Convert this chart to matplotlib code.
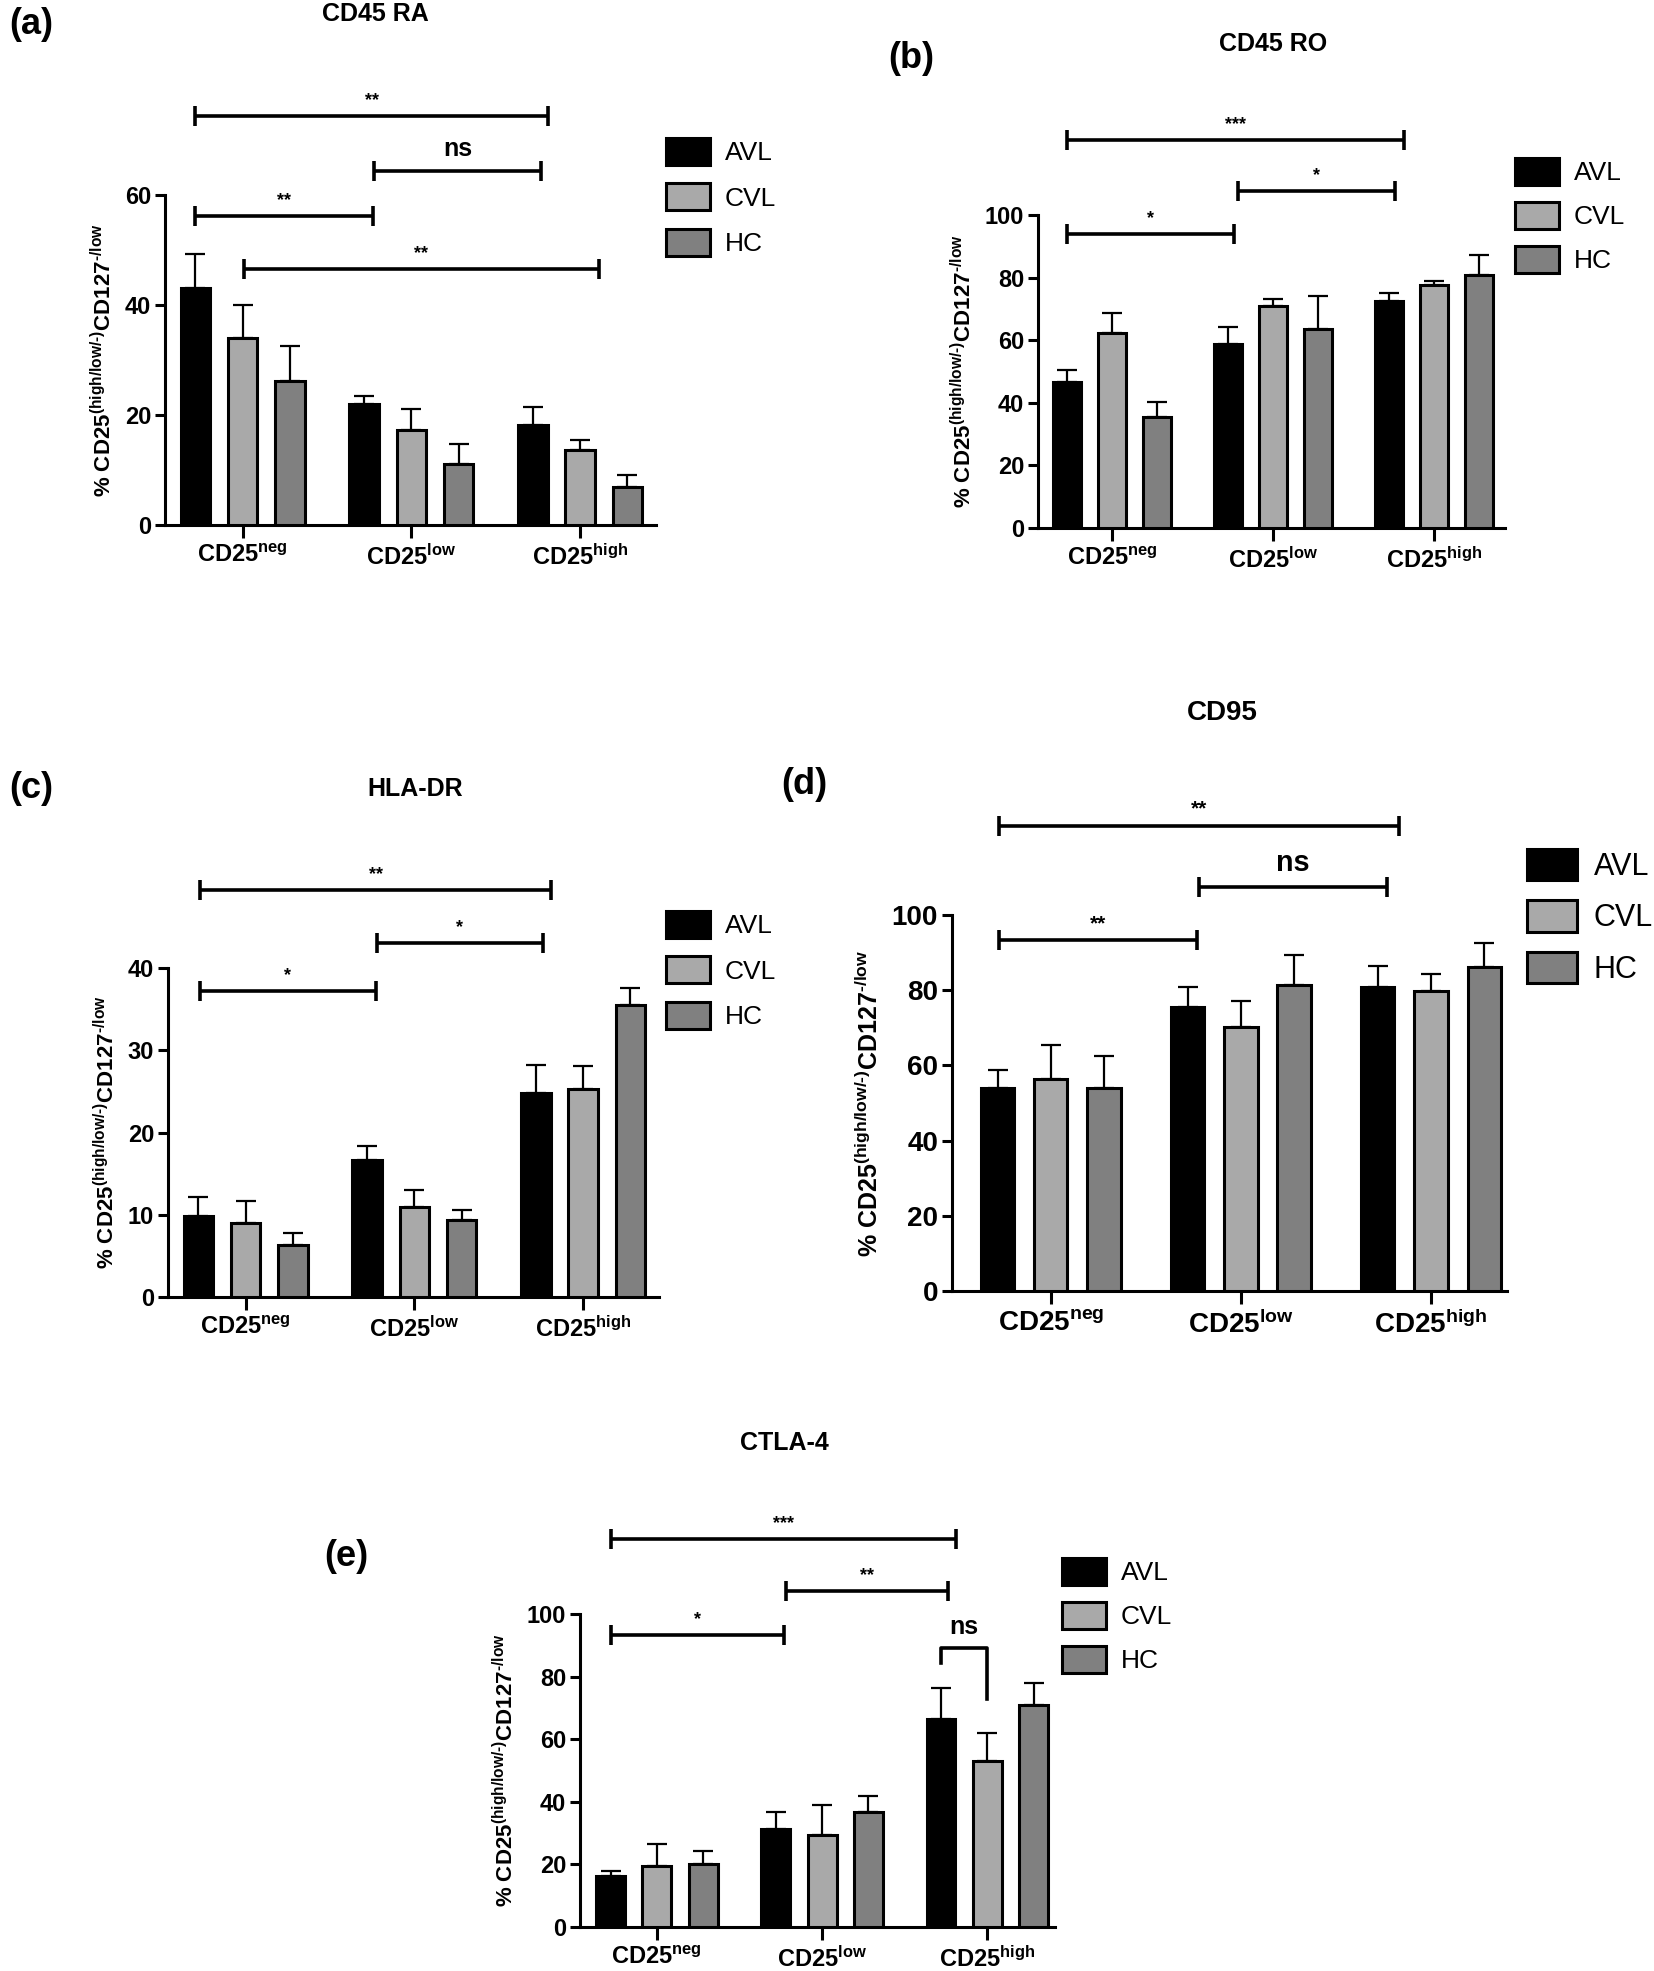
import matplotlib
matplotlib.use("Agg")
import matplotlib.pyplot as plt
import numpy as np

plt.rcParams['font.family'] = ['Liberation Sans', 'DejaVu Sans']
plt.rcParams['font.weight'] = 'bold'
plt.rcParams['mathtext.fontset'] = 'custom'
plt.rcParams['mathtext.rm'] = 'Liberation Sans:bold'
plt.rcParams['mathtext.bf'] = 'Liberation Sans:bold'
plt.rcParams['mathtext.it'] = 'Liberation Sans:bold'
plt.rcParams['mathtext.default'] = 'rm'

# ---------------- data ----------------
groups = ['CD25$^{neg}$', 'CD25$^{low}$', 'CD25$^{high}$']
series = ['AVL', 'CVL', 'HC']
colors = ['#000000', '#a9a9a9', '#808080']

# (a) CD45 RA
a_avl = [43.0, 22.0, 18.2]
a_cvl = [34.0, 17.3, 13.7]
a_hc = [26.2, 11.0, 6.9]
a_avl_err = [6.3, 1.5, 3.2]
a_cvl_err = [6.0, 3.8, 1.7]
a_hc_err = [6.4, 3.8, 2.1]

# (b) CD45 RO
b_avl = [46.7, 58.9, 72.4]
b_cvl = [62.3, 70.9, 77.6]
b_hc = [35.5, 63.6, 80.7]
b_avl_err = [3.7, 5.3, 2.8]
b_cvl_err = [6.4, 2.4, 1.3]
b_hc_err = [4.6, 10.6, 6.5]

# (c) HLA-DR
c_avl = [9.8, 16.7, 24.8]
c_cvl = [9.0, 11.0, 25.3]
c_hc = [6.3, 9.4, 35.5]
c_avl_err = [2.3, 1.6, 3.4]
c_cvl_err = [2.7, 2.0, 2.8]
c_hc_err = [1.5, 1.2, 2.1]

# (d) CD95
d_avl = [53.9, 75.6, 80.8]
d_cvl = [56.4, 70.1, 79.7]
d_hc = [54.0, 81.5, 86.1]
d_avl_err = [5.0, 5.3, 5.6]
d_cvl_err = [9.1, 7.0, 4.6]
d_hc_err = [8.6, 7.8, 6.5]

# (e) CTLA-4
e_avl = [16.4, 31.4, 66.3]
e_cvl = [19.4, 29.3, 52.9]
e_hc = [20.0, 36.9, 70.8]
e_avl_err = [1.6, 5.5, 9.9]
e_cvl_err = [7.1, 9.7, 9.1]
e_hc_err = [4.4, 5.0, 7.1]

# significance bars: (x1, x2, y, label)
a_sig = [(-0.28, 1.81, 74.3, '**'), (0.78, 1.77, 64.4, 'ns'),
         (-0.28, 0.77, 56.1, '**'), (0.01, 2.11, 46.6, '**')]
b_sig = [(-0.28, 1.81, 124.1, '***'), (0.78, 1.76, 107.8, '*'),
         (-0.28, 0.76, 93.9, '*')]
c_sig = [(-0.27, 1.81, 49.5, '**'), (0.78, 1.76, 43.0, '*'),
         (-0.27, 0.77, 37.2, '*')]
d_sig = [(-0.275, 1.83, 123.8, '**'), (0.78, 1.77, 107.5, 'ns'),
         (-0.275, 0.77, 93.3, '**')]
e_sig = [(-0.275, 1.81, 124.1, '***'), (0.78, 1.76, 107.3, '**'),
         (-0.275, 0.77, 93.4, '*')]
e_bracket = (1.72, 2.0, 89.2, 84.3, 72.7, 'ns')

ylabel = r'% CD25$^{(high/low/\text{-})}$CD127$^{\text{-}/low}$'

W, H = 1654, 1971
fig = plt.figure(figsize=(W / 100, H / 100), dpi=100)


def fx(px):
    return px / W


def fy(py):
    return 1 - py / H


offsets = [-0.28, 0.0, 0.28]
bw = 0.175


def panel(rect, vals, errs, ymax, ystep, xlim, sigs, title, title_xy, tag, tag_xy,
          leg_xy, tick_fs=17, leg_fs=19, title_fs=18, ylab_fs=16, sig_scale=1.0,
          leg_len=1.67, leg_ls=0.68):
    ax = fig.add_axes(rect)
    x = np.arange(len(groups))
    handles = []
    for i in range(3):
        h = ax.bar(x + offsets[i], vals[i], width=bw, color=colors[i],
                   edgecolor='black', linewidth=2.2, zorder=3, label=series[i])
        ax.errorbar(x + offsets[i], vals[i], yerr=[np.zeros(3), errs[i]],
                    fmt='none', ecolor='black', elinewidth=1.6, capsize=7,
                    capthick=1.6, zorder=2)
        handles.append(h)
    ax.set_ylim(0, ymax)
    ax.set_xlim(*xlim)
    ax.set_yticks(np.arange(0, ymax + 0.1, ystep))
    ax.set_xticks(x)
    ax.set_xticklabels(groups)
    for s in ['top', 'right']:
        ax.spines[s].set_visible(False)
    for s in ['left', 'bottom']:
        ax.spines[s].set_linewidth(2.2)
    ax.tick_params(axis='y', length=7, width=2.2, labelsize=tick_fs, pad=3)
    ax.tick_params(axis='x', length=9, width=2.2, labelsize=tick_fs, pad=5)
    for lab in ax.get_xticklabels() + ax.get_yticklabels():
        lab.set_fontweight('bold')
    ax.set_ylabel(ylabel, fontsize=ylab_fs, fontweight='bold', labelpad=6)
    for (x1, x2, y, lab) in sigs:
        ax.plot([x1, x2], [y, y], color='black', lw=2.6, marker='|',
                ms=15, mew=2.6, clip_on=False, solid_capstyle='butt')
        fs = 18 * sig_scale if lab == 'ns' else 13 * sig_scale
        ax.annotate(lab, ((x1 + x2) / 2, y), xytext=(0, 5 if lab != 'ns' else 7),
                    textcoords='offset points', ha='center', va='bottom',
                    fontsize=fs, fontweight='bold', annotation_clip=False)
    ax.legend(handles=handles, labels=series, loc='upper left',
              bbox_to_anchor=leg_xy, bbox_transform=fig.transFigure,
              frameon=False, handlelength=leg_len, handleheight=1.2,
              labelspacing=leg_ls, handletextpad=0.55, borderpad=0, borderaxespad=0,
              prop={'size': leg_fs, 'weight': 'normal'})
    fig.text(title_xy[0], title_xy[1], title, ha='center', va='center',
             fontsize=title_fs, fontweight='bold')
    fig.text(tag_xy[0], tag_xy[1], tag, ha='center', va='center',
             fontsize=26, fontweight='bold')
    return ax


# (a)
panel([fx(165), fy(525), fx(656) - fx(165), (525 - 195) / H],
      [a_avl, a_cvl, a_hc], [a_avl_err, a_cvl_err, a_hc_err], 60, 20,
      (-0.46, 2.45), a_sig, 'CD45 RA', (fx(375), fy(14)), '(a)', (fx(31), fy(24)),
      (fx(666), fy(138)))

# (b)
panel([fx(1038), fy(528), fx(1505) - fx(1038), (528 - 215) / H],
      [b_avl, b_cvl, b_hc], [b_avl_err, b_cvl_err, b_hc_err], 100, 20,
      (-0.46, 2.44), b_sig, 'CD45 RO', (fx(1273), fy(44)), '(b)', (fx(911), fy(59)),
      (fx(1515), fy(158)), leg_ls=0.62)

# (c)
panel([fx(168), fy(1297), fx(659) - fx(168), (1297 - 968) / H],
      [c_avl, c_cvl, c_hc], [c_avl_err, c_cvl_err, c_hc_err], 40, 10,
      (-0.46, 2.45), c_sig, 'HLA-DR', (fx(415), fy(789)), '(c)', (fx(31), fy(789)),
      (fx(666), fy(911)))

# (d)
panel([fx(952), fy(1291), fx(1507) - fx(952), (1291 - 915) / H],
      [d_avl, d_cvl, d_hc], [d_avl_err, d_cvl_err, d_hc_err], 100, 20,
      (-0.52, 2.40), d_sig, 'CD95', (fx(1222), fy(713)), '(d)', (fx(804), fy(785)),
      (fx(1527), fy(849)), tick_fs=20, leg_fs=22, title_fs=20, ylab_fs=18,
      sig_scale=1.15, leg_len=1.63, leg_ls=0.6)

# (e)
ax_e = panel([fx(580), fy(1927), fx(1055) - fx(580), (1927 - 1614) / H],
             [e_avl, e_cvl, e_hc], [e_avl_err, e_cvl_err, e_hc_err], 100, 20,
             (-0.465, 2.41), e_sig, 'CTLA-4', (fx(784), fy(1443)), '(e)', (fx(346), fy(1556)),
             (fx(1062), fy(1558)), leg_ls=0.62)
bx1, bx2, by, bl1, bl2, blab = e_bracket
ax_e.plot([bx1, bx1, bx2, bx2], [bl1, by, by, bl2], color='black', lw=2.6,
          clip_on=False)
ax_e.annotate(blab, ((bx1 + bx2) / 2, by), xytext=(0, 6), textcoords='offset points',
              ha='center', va='bottom', fontsize=18, fontweight='bold',
              annotation_clip=False)

fig.savefig('out.png', dpi=100)
